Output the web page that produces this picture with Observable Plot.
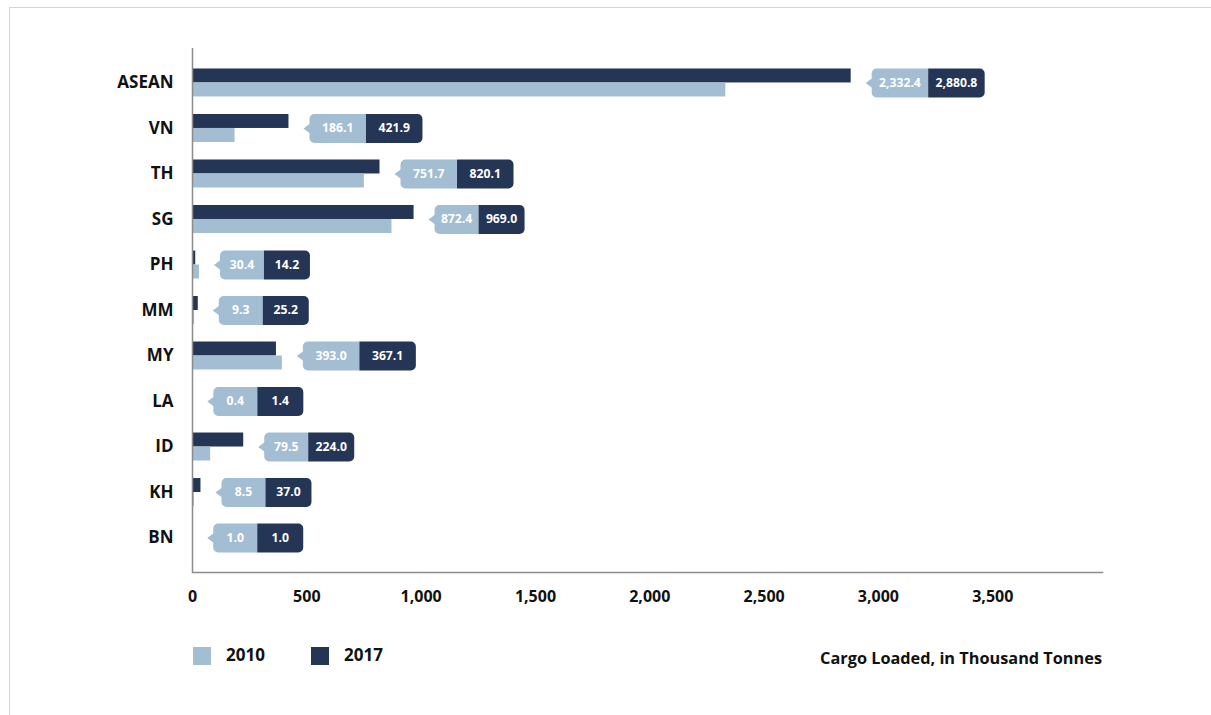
<!DOCTYPE html>
<html><head><meta charset="utf-8">
<script src="https://cdn.jsdelivr.net/npm/d3@7"></script>
<script src="https://cdn.jsdelivr.net/npm/@observablehq/plot@0.6"></script>
<style>
html,body{margin:0;padding:0;background:#fff;overflow:hidden;width:1211px;height:715px;}
body{font-family:"Open Sans",sans-serif;position:relative;}
#frame{position:absolute;left:9px;top:7px;width:1202px;height:708px;border-top:1px solid #d4d4d4;border-left:1px solid #d4d4d4;box-sizing:border-box;}
#chart{position:absolute;left:0;top:0;}
.sw{position:absolute;width:18px;height:18px;}
.lt{position:absolute;font-weight:700;font-size:17px;line-height:20px;color:#111;}
#title{position:absolute;right:109px;top:648px;font-weight:700;font-size:16.3px;line-height:20px;color:#111;white-space:nowrap;}
</style>
</head><body>
<div id="frame"></div>
<div id="chart"></div>
<div class="sw" style="left:193px;top:647px;background:#a3bdd3"></div>
<div class="lt" style="left:226px;top:645px">2010</div>
<div class="sw" style="left:311px;top:647px;background:#253556"></div>
<div class="lt" style="left:344px;top:645px">2017</div>
<div id="title">Cargo Loaded, in Thousand Tonnes</div>
<script>
const countries = ["ASEAN","VN","TH","SG","PH","MM","MY","LA","ID","KH","BN"];
const v2010 = [2332.4,186.1,751.7,872.4,30.4,9.3,393.0,0.4,79.5,8.5,1.0];
const v2017 = [2880.8,421.9,820.1,969.0,14.2,25.2,367.1,1.4,224.0,37.0,1.0];
const xTicks = [0,500,1000,1500,2000,2500,3000,3500];

// styling: which rows use the wider label callout
const wideCallout = new Set(["ASEAN","VN","TH","MY"]);

const LIGHT = "#a3bdd3", DARK = "#253556";
const data = countries.map((c,i)=>({country:c, a:v2010[i], b:v2017[i], m:Math.max(v2010[i], v2017[i])}));
const fmt = d3.format(",.1f");

// callout shapes (pixel offsets relative to the anchor point)
const HH = 14.5, RR = 5, L0 = 20.5;
function shapes(lw, dw){
  const MID = L0 + lw, R1 = MID + dw;
  const light = {draw(ctx){
    ctx.moveTo(L0-6,0); ctx.lineTo(L0,-4.5); ctx.lineTo(L0,-HH+RR);
    ctx.arcTo(L0,-HH,L0+RR,-HH,RR); ctx.lineTo(MID,-HH); ctx.lineTo(MID,HH);
    ctx.lineTo(L0+RR,HH); ctx.arcTo(L0,HH,L0,HH-RR,RR); ctx.lineTo(L0,4.5); ctx.closePath();
  }};
  const dark = {draw(ctx){
    ctx.moveTo(MID,-HH); ctx.lineTo(R1-RR,-HH); ctx.arcTo(R1,-HH,R1,-HH+RR,RR);
    ctx.lineTo(R1,HH-RR); ctx.arcTo(R1,HH,R1-RR,HH,RR); ctx.lineTo(MID,HH); ctx.closePath();
  }};
  return {light, dark, cl: L0 + lw/2, cd: MID + dw/2};
}
function callout(rows, lw, dw){
  const s = shapes(lw, dw);
  return [
    Plot.dot(rows, {x: "m", y: "country", symbol: s.light, fill: LIGHT, stroke: null}),
    Plot.dot(rows, {x: "m", y: "country", symbol: s.dark, fill: DARK, stroke: null}),
    Plot.text(rows, {x: "m", y: "country", text: d => fmt(d.a), dx: s.cl, fill: "#fff", fontSize: 12.2, fontWeight: 700}),
    Plot.text(rows, {x: "m", y: "country", text: d => fmt(d.b), dx: s.cd, fill: "#fff", fontSize: 12.2, fontWeight: 700})
  ];
}

const chart = Plot.plot({
  width: 1211, height: 630,
  marginLeft: 192, marginRight: 109, marginTop: 48, marginBottom: 58,
  style: {fontFamily: "Open Sans", fontSize: "17px", fontWeight: 700, color: "#111", background: "transparent", overflow: "visible"},
  x: {domain: [0, 3980], ticks: xTicks, tickFormat: d3.format(","), label: null},
  y: {type: "band", domain: countries, paddingInner: 0.385, paddingOuter: 0.45, round: false, label: null},
  marks: [
    Plot.barX(data, {x: "b", y: "country", fill: DARK, insetBottom: 14}),
    Plot.barX(data, {x: "a", y: "country", fill: LIGHT, insetTop: 14}),
    ...callout(data.filter(d => wideCallout.has(d.country)), 56.5, 56.5),
    ...callout(data.filter(d => !wideCallout.has(d.country)), 44, 46),
    Plot.ruleX([0], {stroke: "#8c8c8c", strokeWidth: 1.5}),
    Plot.frame({anchor: "bottom", stroke: "#8c8c8c", strokeWidth: 1.5}),
    Plot.axisY({tickSize: 0, tickPadding: 19, fontSize: 17, fontWeight: 700, label: null}),
    Plot.axisX({ticks: xTicks, tickFormat: d3.format(","), tickSize: 0, tickPadding: 18, fontSize: 16, fontWeight: 700, label: null})
  ]
});
document.getElementById("chart").appendChild(chart);
</script>
</body></html>
